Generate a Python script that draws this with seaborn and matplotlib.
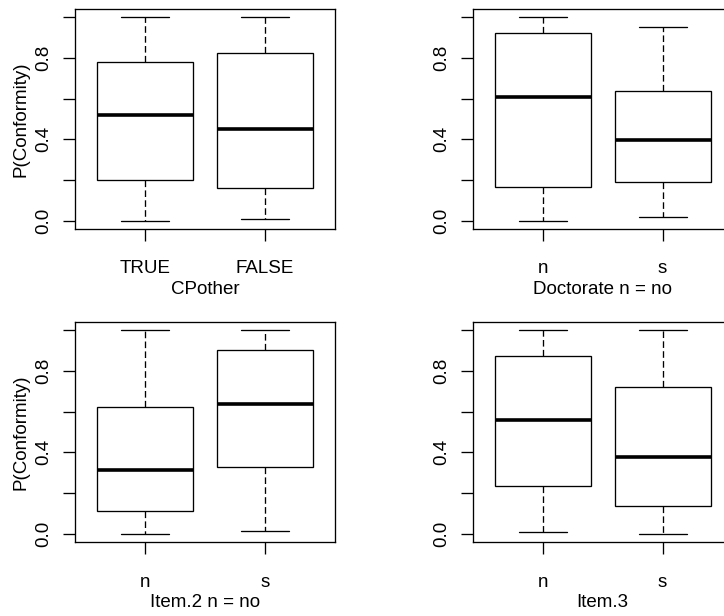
import numpy as np
import pandas as pd
import matplotlib.pyplot as plt
import seaborn as sns

sns.set_style('white')
plt.rcParams['font.family'] = ['Liberation Sans', 'DejaVu Sans']

# five-number summaries (min, Q1, median, Q3, max)
cpother_groups = ['TRUE', 'FALSE']
cpother_a = [0.0, 0.20, 0.52, 0.78, 1.0]
cpother_b = [0.007, 0.16, 0.453, 0.822, 1.0]

doct_groups = ['n', 's']
doct_a = [0.0, 0.168, 0.608, 0.92, 1.0]
doct_b = [0.02, 0.19, 0.396, 0.637, 0.95]

item2_groups = ['n', 's']
item2_a = [0.0, 0.115, 0.314, 0.624, 1.0]
item2_b = [0.016, 0.33, 0.637, 0.90, 1.0]

item3_groups = ['n', 's']
item3_a = [0.008, 0.237, 0.558, 0.872, 1.0]
item3_b = [0.0, 0.136, 0.378, 0.718, 1.0]

panels = [
    (cpother_groups, cpother_a, cpother_b, 'CPother', 'P(Conformity)'),
    (doct_groups, doct_a, doct_b, 'Doctorate n = no', ''),
    (item2_groups, item2_a, item2_b, 'Item.2 n = no', 'P(Conformity)'),
    (item3_groups, item3_a, item3_b, 'Item.3', ''),
]

W, H = 724, 616
# axes boxes in pixels: left, top, width, height
boxes = [(75, 9, 260, 220), (472.7, 9, 260, 220),
         (75, 321.7, 260, 220.6), (472.7, 321.7, 260, 220.6)]

fig = plt.figure(figsize=(W / 100, H / 100), dpi=100)
FS = 13.5

for (groups, a, b, xlab, ylab), (l, t, w, h) in zip(panels, boxes):
    ax = fig.add_axes([l / W, (H - t - h) / H, w / W, h / H])
    df = pd.DataFrame({'group': np.repeat(groups, 5), 'value': a + b})
    sns.boxplot(data=df, x='group', y='value', order=groups, ax=ax,
                whis=(0, 100), width=0.8, color='white', linecolor='black',
                linewidth=0.95, fliersize=0,
                medianprops=dict(linewidth=2.6, color='black', solid_capstyle='butt'),
                whiskerprops=dict(linestyle=(0, (5, 2.5)), color='black'),
                capprops=dict(color='black'))
    ax.set_xlim(-0.585, 1.585)
    ax.set_ylim(-0.04, 1.04)
    ax.set_yticks([0, 0.2, 0.4, 0.6, 0.8, 1.0])
    ax.set_yticklabels(['0.0', '', '0.4', '', '0.8', ''])
    for lbl in ax.get_yticklabels():
        lbl.set_rotation(90)
        lbl.set_va('center')
    ax.tick_params(axis='both', direction='out', length=8.5, width=0.95,
                   color='black', labelsize=FS, labelcolor='black',
                   bottom=True, left=True)
    ax.tick_params(axis='y', pad=8)
    ax.tick_params(axis='x', pad=14)
    for s in ax.spines.values():
        s.set_visible(True)
        s.set_color('black')
        s.set_linewidth(0.95)
    ax.set_xlabel(xlab, fontsize=FS, labelpad=2.5, color='black')
    ax.set_ylabel(ylab, fontsize=FS, labelpad=4, color='black')

fig.savefig('out.png', dpi=100, facecolor='white')
